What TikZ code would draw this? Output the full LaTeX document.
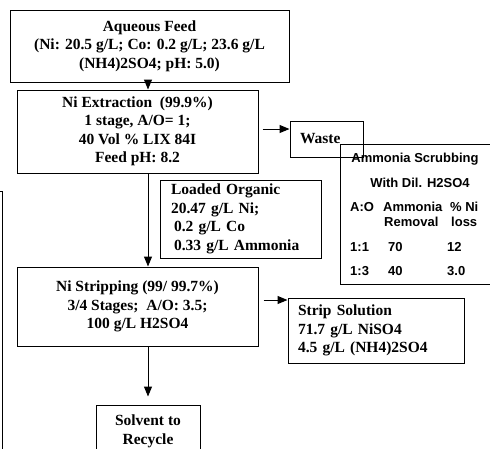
\documentclass[tikz,border=0pt]{standalone}
\usepackage{fontspec}
\setmainfont{Liberation Serif}
\newfontfamily\scrubfont{Liberation Sans}
\usetikzlibrary{arrows.meta,calc}

\begin{document}
\begin{tikzpicture}[x=1pt,y=-1pt,
  flowbox/.style={draw,line width=1pt,inner sep=0pt,align=center,
    font=\fontsize{15.5}{18.5}\selectfont\bfseries},
  flowarrow/.style={line width=1pt,-{Triangle[length=10pt,width=8pt]}},
  scrubtext/.style={inner sep=0pt,anchor=west,
    font=\fontsize{13}{15}\selectfont\scrubfont\bfseries}]
\clip (0,0) rectangle (490,448);
% process boxes
\node[flowbox,minimum width=279pt,minimum height=72pt] (feed) at (149.5,46)
  {Aqueous Feed\\(Ni: 20.5 g/L; Co: 0.2 g/L; 23.6 g/L\\(NH4)2SO4; pH: 5.0)};
\node[flowbox,minimum width=241pt,minimum height=83pt] (extract) at (137.5,131.5)
  {Ni Extraction\ \ (99.9\%)\\1 stage, A/O= 1;\\40 Vol \% LIX 84I\\Feed pH: 8.2};
\node[flowbox,align=left,text width=139pt,minimum width=161pt,minimum height=78pt] (loaded) at (240.5,219)
  {Loaded Organic\\20.47 g/L Ni;\\\hspace{3pt}0.2 g/L Co\\\hspace{3pt}0.33 g/L Ammonia};
\node[flowbox,minimum width=241pt,minimum height=79pt] (strip) at (137.5,306.5)
  {Ni Stripping (99/ 99.7\%)\\3/4 Stages;\ \ A/O: 3.5;\\100 g/L H2SO4};
\node[flowbox,minimum width=104pt,minimum height=53pt] (solvent) at (148,431.5)
  {Solvent to\\Recycle};
% side boxes
\node[flowbox,align=left,text width=53pt,minimum width=73pt,minimum height=36pt] (waste) at (326.5,139)
  {Waste};
\node[flowbox,align=left,text width=156pt,minimum width=176pt,minimum height=65pt] (stripsol) at (376,330.5)
  {Strip Solution\\71.7 g/L NiSO4\\4.5 g/L (NH4)2SO4};
% scrubbing table
\node[draw,line width=1pt,minimum width=160pt,minimum height=140pt] (scrub) at (420,214) {};
\node[scrubtext,anchor=center] (scrubtitle) at (415,159) {Ammonia Scrubbing};
\node[scrubtext,anchor=center] (scrubacid) at (420,183) {With Dil. H2SO4};
\node[scrubtext] (hdao) at (350,207) {A:O};
\node[scrubtext] (hdnh) at (383,207) {Ammonia};
\node[scrubtext] (hdni) at (450,207) {\% Ni};
\node[scrubtext] (hdrem) at (384,222) {Removal};
\node[scrubtext] (hdloss) at (451,222) {loss};
\node[scrubtext] (aoa) at (350,247) {1:1};
\node[scrubtext] (nha) at (388,247) {70};
\node[scrubtext] (nia) at (447,247) {12};
\node[scrubtext] (aob) at (350,271) {1:3};
\node[scrubtext] (nhb) at (388,271) {40};
\node[scrubtext] (nib) at (447,271) {3.0};
% stray frame on the left
\draw[line width=1pt] (-10,191) rectangle (2,470);
% connectors
\coordinate (mainline) at (148,0);
\draw[flowarrow] (feed.south -| mainline) -- (extract.north -| mainline);
\draw[flowarrow] (extract.south -| mainline) -- (strip.north -| mainline);
\draw[flowarrow,shorten >=8pt] (strip.south -| mainline) -- (solvent.north -| mainline);
\draw[flowarrow,shorten <=4pt] ([yshift=2.5pt]extract.east) -- ([yshift=2.5pt]extract.east -| waste.west);
\draw[flowarrow,shorten <=5pt] ([yshift=6.5pt]strip.east) -- ([yshift=6.5pt]strip.east -| stripsol.west);
\end{tikzpicture}
\end{document}
